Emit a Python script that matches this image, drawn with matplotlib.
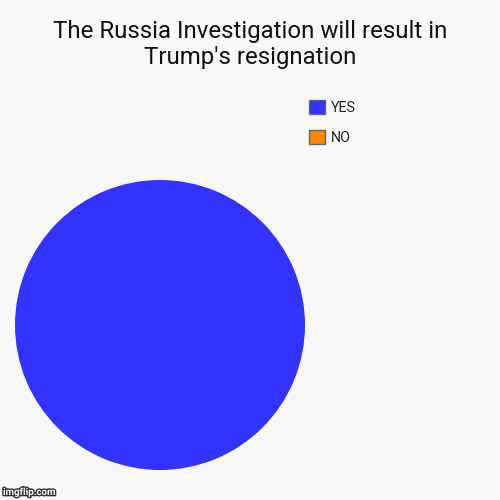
import matplotlib.pyplot as plt
import matplotlib.patheffects as pe

# Data
labels = ["YES", "NO"]
values = [100, 0]
colors = ["#3333ff", "#ff8800"]
title = "The Russia Investigation will result in\nTrump's resignation"

plt.rcParams['font.family'] = ['Roboto', 'DejaVu Sans']

fig = plt.figure(figsize=(5, 5), dpi=100)
fig.patch.set_facecolor("#f8f8f8")

# pie area in pixels: x 15..305, y 180..470
ax = fig.add_axes([15 / 500, 30 / 500, 290 / 500, 290 / 500])
ax.set_facecolor("#f8f8f8")
wedges, _ = ax.pie(values, colors=colors, startangle=90, counterclock=False,
                   radius=1.0, wedgeprops=dict(linewidth=0))
ax.set_xlim(-1, 1)
ax.set_ylim(-1, 1)
ax.axis("off")

fig.text(0.5, 1 - 20 / 500, title, ha="center", va="top", fontsize=17.3,
         color="#111111", linespacing=1.15)

leg = fig.legend(wedges, labels, loc="upper left",
                 bbox_to_anchor=(309 / 500, 1 - 100 / 500),
                 frameon=False, fontsize=10.3, handlelength=1.15, handleheight=1.15,
                 handletextpad=0.35, labelspacing=1.05, borderaxespad=0,
                 borderpad=0)
for h in leg.legend_handles:
    h.set_edgecolor("#666666")
    h.set_linewidth(1)
for t in leg.get_texts():
    t.set_color("#222222")

fig.text(3 / 500, 3 / 500, "imgflip.com", ha="left", va="bottom", fontsize=7,
         color="white", fontweight="bold",
         path_effects=[pe.withStroke(linewidth=2, foreground="#333333")])

fig.savefig("out.png", dpi=100, facecolor=fig.get_facecolor())
